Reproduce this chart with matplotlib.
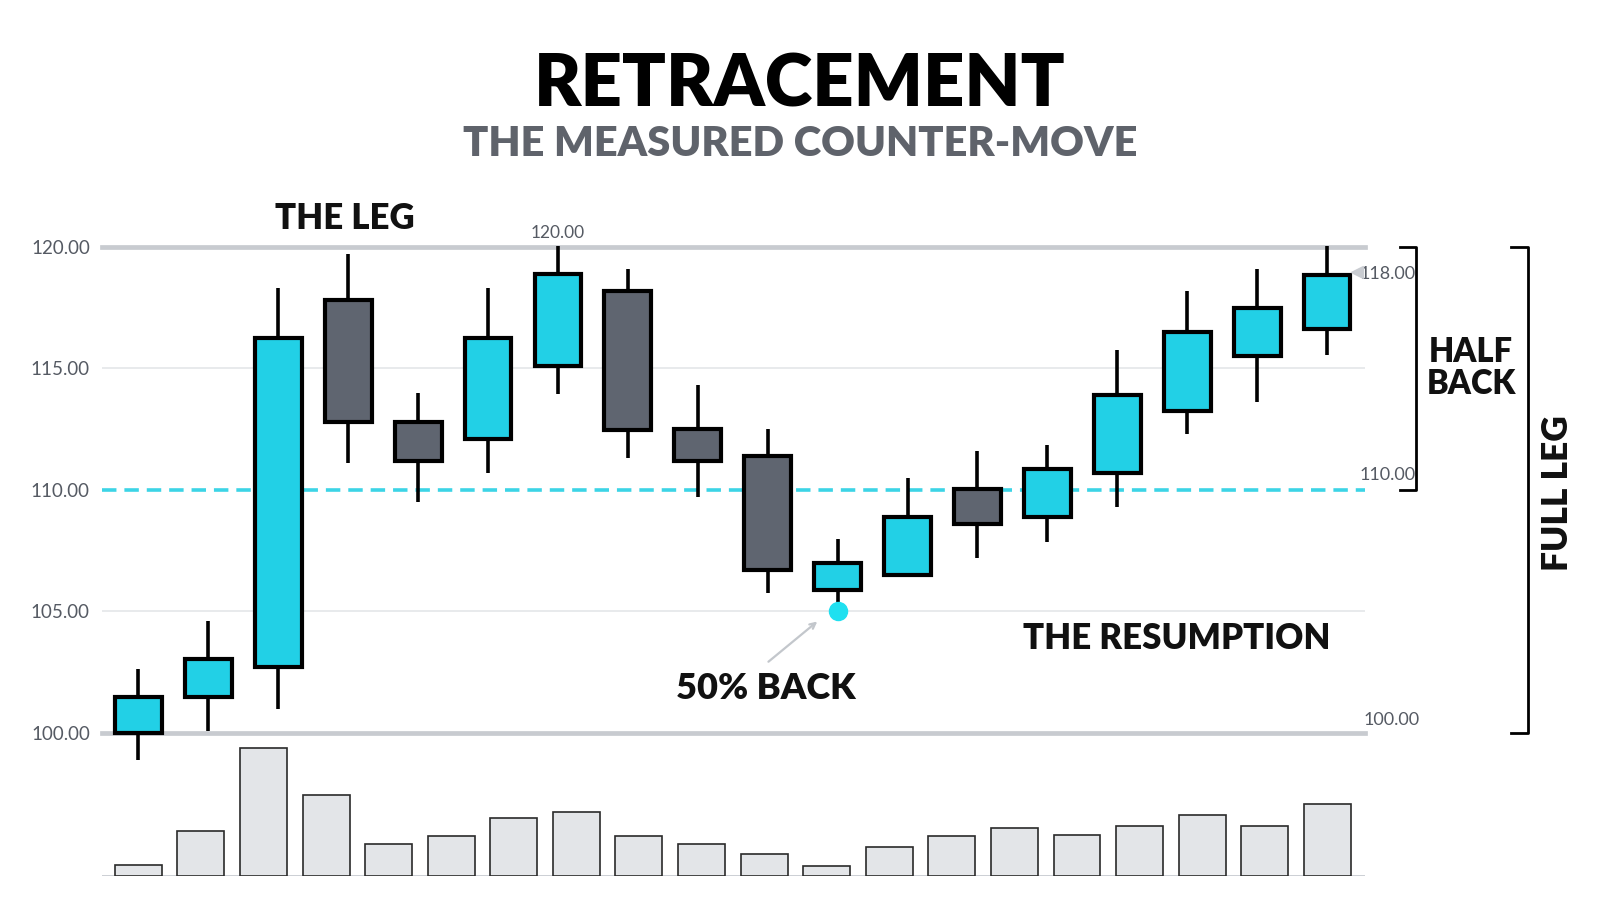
import matplotlib
matplotlib.use("Agg")
import matplotlib.pyplot as plt
import numpy as np

plt.rcParams['font.family'] = ['Lato', 'DejaVu Sans']

# ---- donnees ----
opens  = [100.0, 101.5, 102.7, 117.8, 112.8, 112.1, 115.1, 118.2, 112.5, 111.4,
          105.9, 106.5, 110.05, 108.9, 110.7, 113.25, 115.5, 116.6]
highs  = [102.65, 104.6, 118.3, 119.7, 114.0, 118.3, 120.05, 119.1, 114.3, 112.5,
          108.0, 110.5, 111.6, 111.85, 115.75, 118.2, 119.1, 120.05]
lows   = [98.9, 100.1, 101.0, 111.1, 109.5, 110.7, 113.95, 111.3, 109.7, 105.75,
          105.0, 106.5, 107.2, 107.85, 109.3, 112.3, 113.6, 115.55]
closes = [101.5, 103.05, 116.25, 112.8, 111.2, 116.25, 118.9, 112.45, 111.2, 106.7,
          107.0, 108.9, 108.6, 110.85, 113.9, 116.5, 117.5, 118.85]
volumes = [11, 45, 128, 81, 32, 40, 58, 64, 40, 32, 22, 10, 29, 40, 48, 41, 50, 61, 50, 72]

y_ticks = [100, 105, 110, 115, 120]
y_tick_labels = ["100.00", "105.00", "110.00", "115.00", "120.00"]

CYAN = "#22d0e6"
DARK = "#5f6570"
GRID = "#c8cbd0"
LIGHT = "#e4e6e9"
TXT = "#111111"
GRAY_TXT = "#555a63"

fig = plt.figure(figsize=(16, 9.14), dpi=100)
fig.patch.set_facecolor("white")

# axe principal (bougies)
ax = fig.add_axes([0.064, 0.198, 0.789, 0.532])
n = len(opens)
x = np.arange(n)
ax.set_xlim(-0.515, 17.54)
ax.set_ylim(100, 120)
for s in ax.spines.values():
    s.set_visible(False)

# lignes horizontales
ax.axhline(120, color=GRID, lw=3.4, zorder=1, clip_on=False)
ax.axhline(100, color=GRID, lw=3.4, zorder=1, clip_on=False)
ax.axhline(115, color=LIGHT, lw=1.2, zorder=1)
ax.axhline(105, color=LIGHT, lw=1.2, zorder=1)
ax.axhline(110, color="#3cd4e6", lw=2.6, dashes=(4, 2.2), zorder=1)

ax.set_yticks(y_ticks)
ax.set_yticklabels(y_tick_labels)
ax.tick_params(axis="y", length=0, pad=9, labelsize=13.5, labelcolor=GRAY_TXT)
ax.set_xticks([])

# bougies
bull = [c >= o for o, c in zip(opens, closes)]
colors = [CYAN if b else DARK for b in bull]
ax.vlines(x, lows, highs, color="black", lw=2.6, zorder=2, clip_on=False)
bottoms = [min(o, c) for o, c in zip(opens, closes)]
heights = [abs(c - o) for o, c in zip(opens, closes)]
ax.bar(x, heights, bottom=bottoms, width=0.67, color=colors,
       edgecolor="black", linewidth=3, zorder=3, clip_on=False)

# point 50 %
ax.plot([10], [105.0], "o", color="#1fe0f0", ms=13, zorder=4, clip_on=False)
ax.annotate("", xy=(9.74, 104.66), xytext=(8.98, 102.86),
            arrowprops=dict(arrowstyle="->", color="#c3c7cc", lw=1.6))

# textes
ax.text(2.95, 121.15, "THE LEG", ha="center", va="center", fontsize=25,
        fontweight="heavy", color=TXT)
ax.text(6, 120.25, "120.00", ha="center", va="bottom", fontsize=12.5, color=GRAY_TXT)
ax.text(8.97, 101.85, "50% BACK", ha="center", va="center", fontsize=26,
        fontweight="heavy", color=TXT)
ax.text(14.85, 103.9, "THE RESUMPTION", ha="center", va="center", fontsize=25,
        fontweight="heavy", color=TXT)

ax.text(17.46, 118.87, "118.00", ha="left", va="center", fontsize=13, color=GRAY_TXT)
ax.plot([17.43], [118.95], marker="<", color="#c9ccd1", ms=9, zorder=4, clip_on=False)
ax.text(17.46, 110.6, "110.00", ha="left", va="center", fontsize=13, color=GRAY_TXT)
ax.text(17.52, 100.55, "100.00", ha="left", va="center", fontsize=13, color=GRAY_TXT)

# crochets
ax.plot([18.04, 18.27, 18.27, 18.04], [120, 120, 110, 110], color="black", lw=2,
        clip_on=False)
ax.plot([19.63, 19.87, 19.87, 19.63], [120, 120, 100, 100], color="black", lw=2,
        clip_on=False)
ax.text(19.06, 115.0, "HALF\nBACK", ha="center", va="center", fontsize=23.5,
        fontweight="heavy", color=TXT, linespacing=1.0)
ax.text(20.3, 109.85, "FULL LEG", ha="center", va="center", rotation=90,
        fontsize=25.5, fontweight="heavy", color=TXT)

# volume
axv = fig.add_axes([0.064, 0.0416, 0.789, 0.1527])
xv = np.arange(len(volumes))
axv.set_xlim(-0.575, 19.6)
axv.set_ylim(0, 140)
axv.axis("off")
axv.bar(xv, volumes, width=0.75, color="#e3e5e8", edgecolor="#2a2a2a", linewidth=1.2,
        zorder=2)
axv.axhline(0, color=GRID, lw=2, zorder=1)

# titre
fig.text(0.5, 0.906, "RETRACEMENT", ha="center", va="center", fontsize=52,
         fontweight="heavy", color="black")
fig.text(0.5, 0.842, "THE MEASURED COUNTER-MOVE", ha="center", va="center",
         fontsize=30, fontweight="heavy", color="#5f636b")

fig.savefig("out.png", dpi=100, facecolor="white")
